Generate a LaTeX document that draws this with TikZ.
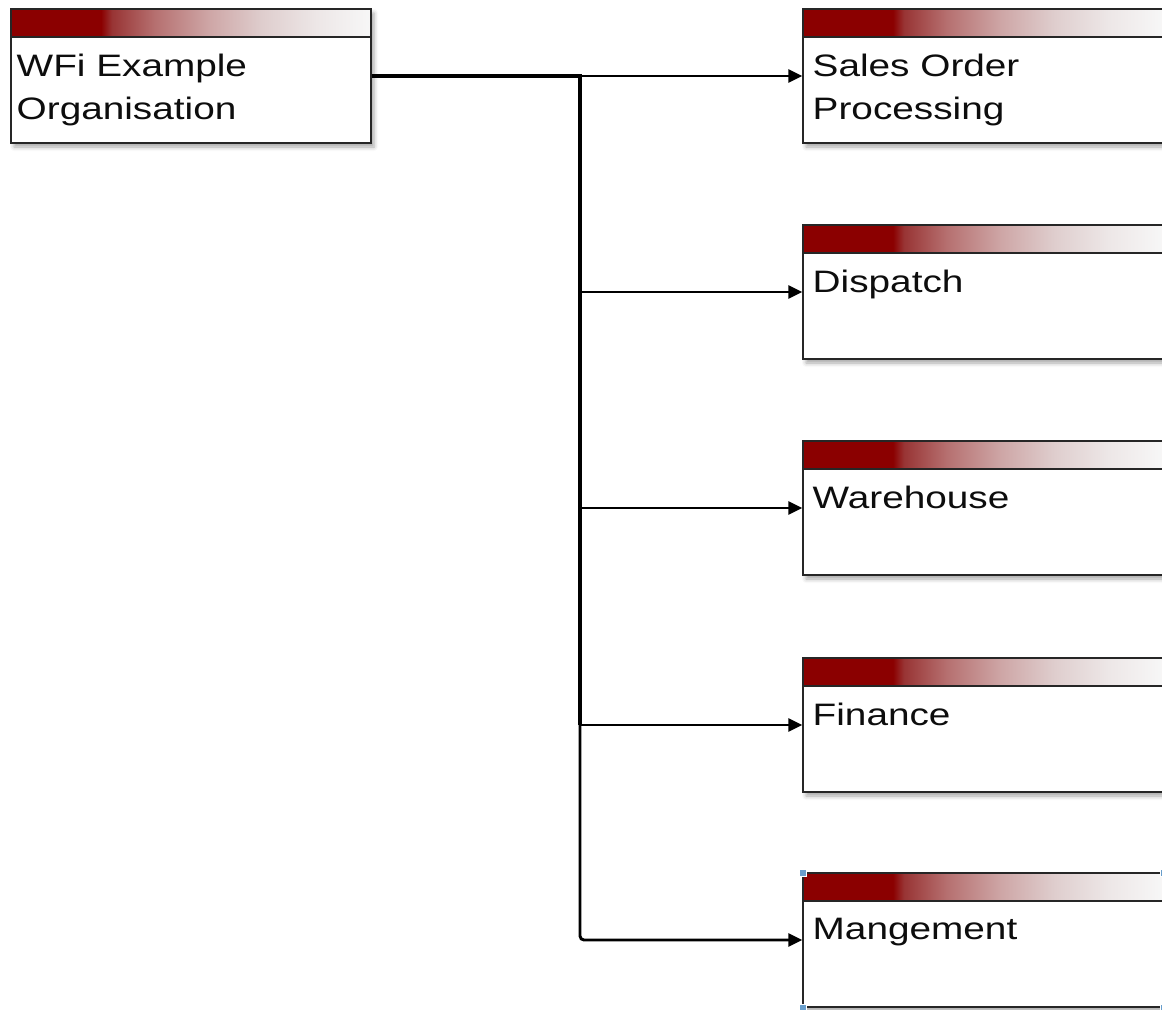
\documentclass[tikz,border=0pt]{standalone}
\usepackage{fontspec}
\newfontfamily\boxfont[FakeStretch=1.25]{Liberation Sans}
\usetikzlibrary{arrows.meta,shadows.blur}

\definecolor{hdrred}{RGB}{139,0,0}
\definecolor{fadeA}{RGB}{152,52,52}
\definecolor{fadeB}{RGB}{182,112,112}
\definecolor{fadeC}{RGB}{206,166,166}
\definecolor{fadeD}{RGB}{223,206,206}
\definecolor{fadeE}{RGB}{237,231,231}
\definecolor{fadeF}{RGB}{247,247,247}
\definecolor{handleblue}{RGB}{104,158,204}

% header bar: solid red for the first quarter, then fading out
\pgfdeclarehorizontalshading{hdrfade}{100bp}{color(0bp)=(hdrred); color(37.5bp)=(hdrred);
  color(39bp)=(fadeA); color(45bp)=(fadeB); color(52.5bp)=(fadeC); color(60bp)=(fadeD);
  color(67.5bp)=(fadeE); color(75bp)=(fadeF); color(100bp)=(fadeF)}

\tikzset{
  unit/.style={draw=black!85, line width=0.7pt, fill=white,
    minimum width=180pt, minimum height=67pt, inner sep=0pt,
    blur shadow={shadow xshift=1.5pt, shadow yshift=-2pt, shadow blur radius=2pt, shadow opacity=35},
    path picture={
      \shade[shading=hdrfade] (path picture bounding box.north west)
        rectangle ([yshift=-14pt]path picture bounding box.north east);
      \draw[black!85, line width=0.7pt] ([yshift=-14pt]path picture bounding box.north west)
        -- ([yshift=-14pt]path picture bounding box.north east);
    }},
  unittext/.style={anchor=north west, inner sep=0pt, align=left, text=black!95,
    font=\boxfont\fontsize{15.5pt}{21.5pt}\selectfont},
  link/.style={line width=1.45pt, -{Triangle[length=7pt,width=6.5pt]}},
  trunk/.style={line width=2.2pt},
  handle/.style={fill=handleblue, draw=white, line width=0.3pt, inner sep=0pt, minimum size=3.5pt}
}

\begin{document}
\begin{tikzpicture}[x=0.5pt,y=-0.5pt]

\useasboundingbox (0,0) rectangle (1162,1009);

\coordinate (split) at (580,76);

\node[unit] (root) at (191,76) {};
\node[unittext] (root-t) at ([xshift=3pt,yshift=-22.5pt]root.north west) {WFi Example\\Organisation};

\foreach \n/\y/\t in {sales/76/{Sales Order\\Processing}, dispatch/292/Dispatch,
                      warehouse/508/Warehouse, finance/725/Finance, mgmt/940/Mangement}
{
    \node[unit] (\n) at (983,\y) {};
    \node[unittext] (\n-t) at ([xshift=5pt,yshift=-22.5pt]\n.north west) {\t};
}

% connectors
\draw[trunk] (root.east) -- (split) -- (split |- finance.west);
\draw[link] (split) -- (sales.west);
\foreach \n in {dispatch,warehouse,finance}
    \draw[link] (split) |- (\n.west);
\draw[link, rounded corners=2pt] (split) |- (mgmt.west);

% selection handles
\foreach \a [count=\k] in {north west, north east, south west, south east}
    \node[handle] (h\k) at (mgmt.\a) {};

\end{tikzpicture}
\end{document}
